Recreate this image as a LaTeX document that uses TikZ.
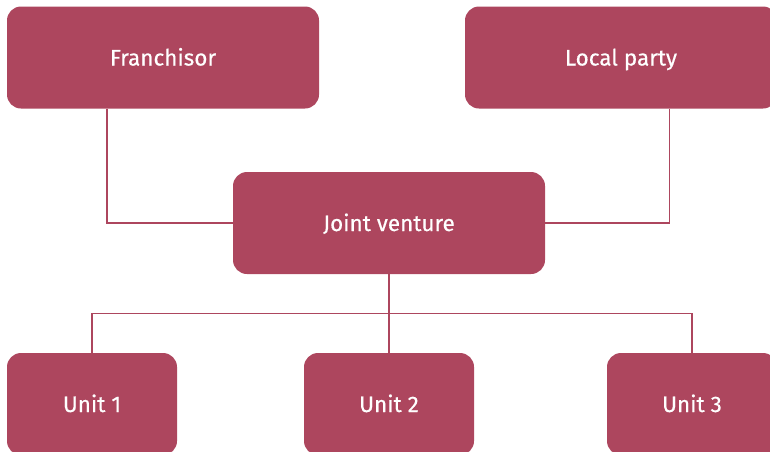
\documentclass[tikz,border=0pt]{standalone}
\usepackage{fontspec}
\setmainfont{Fira Sans}
\newfontfamily\boxfont[FakeBold=0.4]{Fira Sans}
\definecolor{boxred}{HTML}{AD465E}
\begin{document}
\begin{tikzpicture}[x=1pt,y=-1pt,
  box/.style={fill=boxred,draw=none,rounded corners=14pt,text=white,font=\boxfont\fontsize{22.5}{26}\selectfont,inner sep=0pt,text height=16pt,text depth=0pt},
  big/.style={box,minimum width=312pt,minimum height=102pt},
  unit/.style={box,minimum width=170pt,minimum height=102pt},
  link/.style={draw=boxred,line width=1.3pt}]
\useasboundingbox (0,0) rectangle (770,451);
\clip (0,0) rectangle (770,451);
\node[big] (fr) at (163,57.5) {Franchisor};
\node[big] (lp) at (621,57.5) {Local party};
\node[big] (jv) at (389,223) {Joint venture};
\node[unit] (u1) at (92,404) {Unit 1};
\node[unit] (u2) at (389,404) {Unit 2};
\node[unit] (u3) at (692,404) {Unit 3};
\draw[link] ([xshift=-56pt]fr.south) |- (jv.west);
\draw[link] ([xshift=48.5pt]lp.south) |- (jv.east);
\draw[link] (jv.south) -- (u2.north);
\draw[link] (u1.north) -- ++(0,-39) -| (u3.north);
\end{tikzpicture}
\end{document}
